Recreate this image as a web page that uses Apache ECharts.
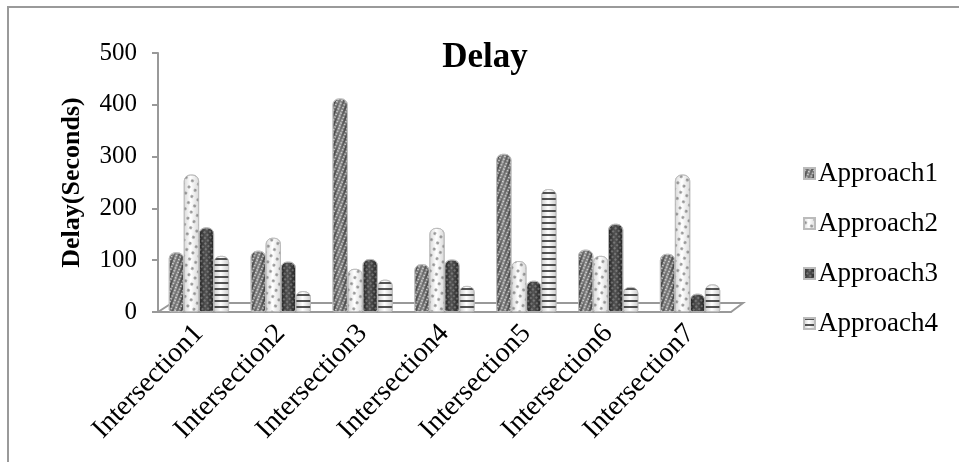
<!DOCTYPE html>
<html>
<head>
<meta charset="utf-8">
<script src="https://cdn.jsdelivr.net/npm/echarts@6/dist/echarts.min.js"></script>
<style>
  html, body { margin: 0; padding: 0; background: #fff; }
  #wrap { position: relative; width: 959px; height: 462px; }
  #main { position: absolute; left: 0; top: 0; width: 959px; height: 462px; }
  #frame { position: absolute; left: 7px; top: 6px; right: -4px; bottom: -4px;
           border-left: 2px solid #9a9a9a; border-top: 2px solid #9a9a9a; pointer-events: none; }
</style>
</head>
<body>
<div id="wrap">
  <div id="main"></div>
  <div id="frame"></div>
</div>
<script>
// 路口和四种方案的延误数据
var categories = ['Intersection1', 'Intersection2', 'Intersection3', 'Intersection4',
                  'Intersection5', 'Intersection6', 'Intersection7'];
var approach1 = [115, 118, 412, 92, 305, 120, 112];
var approach2 = [265, 143, 83, 162, 98, 108, 265];
var approach3 = [163, 97, 102, 101, 60, 170, 35];
var approach4 = [108, 40, 62, 50, 237, 48, 53];
var yTicks = [0, 100, 200, 300, 400, 500];

var font = '"Liberation Serif", "Times New Roman", serif';

function cyl(c1, c2) {
  return {
    type: 'linear', x: 0, y: 0, x2: 1, y2: 0,
    colorStops: [{ offset: 0, color: c2 }, { offset: 0.45, color: c1 }, { offset: 1, color: c2 }]
  };
}

function bar(name, data, color, decal) {
  return {
    name: name,
    type: 'bar',
    data: data,
    barWidth: 15,
    barGap: '0%',
    itemStyle: {
      color: color,
      borderColor: '#bbb',
      borderWidth: 0.6,
      borderRadius: [6, 6, 2, 2],
      decal: decal
    }
  };
}

var myChart = echarts.init(document.getElementById('main'));
myChart.setOption({
  animation: false,
  title: {
    text: 'Delay',
    left: 480, top: 35,
    textAlign: 'center',
    textStyle: { fontFamily: font, fontWeight: 'bold', fontSize: 35, color: '#000' }
  },
  legend: {
    orient: 'vertical',
    left: 798, top: 155,
    itemWidth: 11, itemHeight: 11, itemGap: 23,
    icon: 'rect',
    textStyle: { fontFamily: font, fontSize: 27, color: '#000', padding: [0, 0, 0, -2] },
    data: ['Approach1', 'Approach2', 'Approach3', 'Approach4']
  },
  grid: { left: 158, right: 228, top: 53, bottom: 150 },
  xAxis: {
    type: 'category',
    data: categories,
    axisLine: { lineStyle: { color: '#999', width: 2 } },
    axisTick: { length: 8, lineStyle: { color: '#999', width: 2 } },
    axisLabel: { rotate: 46, margin: 17, fontFamily: font, fontSize: 28, color: '#000' }
  },
  yAxis: {
    type: 'value',
    min: yTicks[0], max: yTicks[yTicks.length - 1], interval: 100,
    name: 'Delay(Seconds)',
    nameLocation: 'middle',
    nameGap: 73,
    nameTextStyle: { fontFamily: font, fontWeight: 'bold', fontSize: 26, color: '#000' },
    axisLine: { show: true, lineStyle: { color: '#999', width: 2 } },
    axisTick: { show: true, length: 6, lineStyle: { color: '#999', width: 2 } },
    splitLine: { show: false },
    axisLabel: { margin: 21, fontFamily: font, fontSize: 25, color: '#000' }
  },
  series: [
    bar('Approach1', approach1, cyl('#7a7a7a', '#3e3e3e'),
        { symbol: 'circle', symbolSize: 0.6, color: 'rgba(255,255,255,0.85)', dashArrayX: [4, 0], dashArrayY: [3, 0], rotation: 0.4 }),
    bar('Approach2', approach2, cyl('#ffffff', '#d8d8d8'),
        { symbol: 'circle', symbolSize: 0.4, color: 'rgba(120,120,120,0.8)', dashArrayX: [7, 0], dashArrayY: [7, 0], rotation: 0.5 }),
    bar('Approach3', approach3, cyl('#555555', '#222222'),
        { symbol: 'circle', symbolSize: 0.5, color: 'rgba(170,170,170,0.6)', dashArrayX: [4, 0], dashArrayY: [4, 0], rotation: 0.7 }),
    bar('Approach4', approach4, cyl('#ffffff', '#cccccc'),
        { symbol: 'rect', symbolSize: 1, color: 'rgba(30,30,30,0.75)', dashArrayX: [1, 0], dashArrayY: [1.2, 3.5], rotation: 0 })
  ]
});

// 3D 底板（仿 Excel 立体图的地面）
var rect = myChart.getModel().getComponent('grid').coordinateSystem.getRect();
var x0 = rect.x, x1 = rect.x + rect.width, yb = rect.y + rect.height;
myChart.setOption({
  graphic: [{
    type: 'polyline',
    z: 0,
    shape: { points: [[x0, yb], [x0 + 14, yb - 9], [x1 + 12, yb - 9], [x1, yb]] },
    style: { stroke: '#999', lineWidth: 2, fill: null }
  }]
});
</script>
</body>
</html>
